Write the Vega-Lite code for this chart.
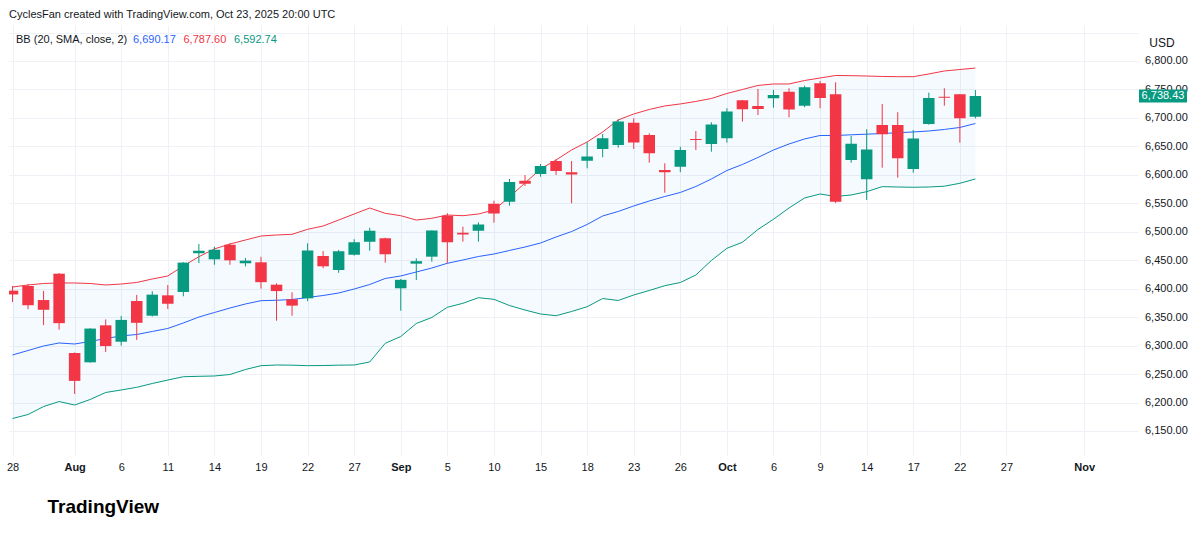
{
  "$schema": "https://vega.github.io/schema/vega-lite/v6.json",
  "autosize": {"type": "none"},
  "width": 1129.5,
  "height": 430,
  "padding": {"left": 9, "top": 25, "right": 61.5, "bottom": 80},
  "background": "#ffffff",
  "title": {
    "text": "CyclesFan created with TradingView.com, Oct 23, 2025 20:00 UTC",
    "anchor": "start",
    "frame": "group",
    "offset": 7.5,
    "dy": 11.5,
    "baseline": "alphabetic",
    "fontSize": 11,
    "fontWeight": "normal",
    "color": "#131722"
  },
  "data": {
    "values": [
      {"d": "2025-07-28", "open": 6396.5, "high": 6404.7, "low": 6376.6, "close": 6389.8, "upper": 6402.9, "basis": 6283.5, "lower": 6171.9},
      {"d": "2025-07-29", "open": 6404.7, "high": 6408.0, "low": 6364.0, "close": 6370.9, "upper": 6406.5, "basis": 6291.4, "lower": 6178.9},
      {"d": "2025-07-30", "open": 6380.0, "high": 6396.0, "low": 6336.0, "close": 6362.9, "upper": 6409.1, "basis": 6299.3, "lower": 6192.9},
      {"d": "2025-07-31", "open": 6426.3, "high": 6427.5, "low": 6328.0, "close": 6339.4, "upper": 6410.0, "basis": 6304.6, "lower": 6201.7},
      {"d": "2025-08-01", "open": 6287.0, "high": 6288.0, "low": 6215.0, "close": 6238.0, "upper": 6410.0, "basis": 6302.8, "lower": 6195.6},
      {"d": "2025-08-04", "open": 6270.6, "high": 6330.5, "low": 6270.0, "close": 6329.9, "upper": 6409.1, "basis": 6307.2, "lower": 6205.3},
      {"d": "2025-08-05", "open": 6335.6, "high": 6346.0, "low": 6288.7, "close": 6299.2, "upper": 6406.5, "basis": 6312.5, "lower": 6217.6},
      {"d": "2025-08-06", "open": 6306.8, "high": 6352.0, "low": 6299.8, "close": 6345.1, "upper": 6408.2, "basis": 6316.9, "lower": 6222.0},
      {"d": "2025-08-07", "open": 6378.3, "high": 6389.0, "low": 6310.0, "close": 6340.0, "upper": 6410.9, "basis": 6319.5, "lower": 6226.7},
      {"d": "2025-08-08", "open": 6352.5, "high": 6395.4, "low": 6351.0, "close": 6389.5, "upper": 6417.0, "basis": 6324.8, "lower": 6233.4},
      {"d": "2025-08-11", "open": 6388.3, "high": 6406.5, "low": 6364.3, "close": 6373.5, "upper": 6422.3, "basis": 6330.1, "lower": 6239.5},
      {"d": "2025-08-12", "open": 6394.2, "high": 6446.5, "low": 6386.6, "close": 6445.8, "upper": 6439.9, "basis": 6339.7, "lower": 6245.3},
      {"d": "2025-08-13", "open": 6462.1, "high": 6478.5, "low": 6445.0, "close": 6466.6, "upper": 6456.2, "basis": 6350.2, "lower": 6246.0},
      {"d": "2025-08-14", "open": 6451.6, "high": 6473.7, "low": 6442.0, "close": 6468.5, "upper": 6469.8, "basis": 6358.1, "lower": 6246.6},
      {"d": "2025-08-15", "open": 6477.3, "high": 6480.0, "low": 6442.0, "close": 6449.8, "upper": 6478.5, "basis": 6366.0, "lower": 6249.2},
      {"d": "2025-08-18", "open": 6444.6, "high": 6453.9, "low": 6439.3, "close": 6449.2, "upper": 6485.5, "basis": 6373.1, "lower": 6258.0},
      {"d": "2025-08-19", "open": 6446.3, "high": 6456.0, "low": 6400.0, "close": 6411.4, "upper": 6492.5, "basis": 6378.9, "lower": 6264.7},
      {"d": "2025-08-20", "open": 6407.0, "high": 6409.4, "low": 6343.7, "close": 6395.8, "upper": 6494.3, "basis": 6379.6, "lower": 6265.9},
      {"d": "2025-08-21", "open": 6381.3, "high": 6393.6, "low": 6352.5, "close": 6370.2, "upper": 6495.5, "basis": 6381.0, "lower": 6265.6},
      {"d": "2025-08-22", "open": 6383.0, "high": 6479.7, "low": 6378.0, "close": 6466.9, "upper": 6504.3, "basis": 6384.5, "lower": 6264.7},
      {"d": "2025-08-25", "open": 6457.4, "high": 6466.2, "low": 6436.0, "close": 6439.3, "upper": 6510.1, "basis": 6388.0, "lower": 6265.0},
      {"d": "2025-08-26", "open": 6432.8, "high": 6468.0, "low": 6428.0, "close": 6465.9, "upper": 6520.6, "basis": 6392.4, "lower": 6265.6},
      {"d": "2025-08-27", "open": 6459.7, "high": 6486.8, "low": 6458.0, "close": 6481.4, "upper": 6531.2, "basis": 6399.4, "lower": 6265.9},
      {"d": "2025-08-28", "open": 6482.5, "high": 6507.0, "low": 6466.7, "close": 6501.9, "upper": 6541.7, "basis": 6407.3, "lower": 6271.2},
      {"d": "2025-08-29", "open": 6488.5, "high": 6489.5, "low": 6445.6, "close": 6460.3, "upper": 6532.4, "basis": 6417.9, "lower": 6304.0},
      {"d": "2025-09-02", "open": 6400.7, "high": 6417.0, "low": 6361.3, "close": 6415.5, "upper": 6528.2, "basis": 6422.3, "lower": 6316.0},
      {"d": "2025-09-03", "open": 6443.9, "high": 6453.3, "low": 6415.2, "close": 6448.3, "upper": 6520.6, "basis": 6429.3, "lower": 6338.8},
      {"d": "2025-09-04", "open": 6456.2, "high": 6502.5, "low": 6447.4, "close": 6502.1, "upper": 6523.6, "basis": 6436.3, "lower": 6349.4},
      {"d": "2025-09-05", "open": 6528.2, "high": 6532.4, "low": 6444.6, "close": 6481.5, "upper": 6529.4, "basis": 6444.6, "lower": 6367.3},
      {"d": "2025-09-08", "open": 6498.3, "high": 6508.9, "low": 6482.5, "close": 6495.2, "upper": 6528.2, "basis": 6450.4, "lower": 6374.3},
      {"d": "2025-09-09", "open": 6501.9, "high": 6516.6, "low": 6482.5, "close": 6512.6, "upper": 6531.2, "basis": 6456.5, "lower": 6384.1},
      {"d": "2025-09-10", "open": 6549.3, "high": 6554.6, "low": 6515.9, "close": 6532.0, "upper": 6538.2, "basis": 6460.9, "lower": 6381.3},
      {"d": "2025-09-11", "open": 6552.8, "high": 6592.7, "low": 6545.8, "close": 6587.5, "upper": 6561.1, "basis": 6467.1, "lower": 6370.4},
      {"d": "2025-09-12", "open": 6589.7, "high": 6599.7, "low": 6580.4, "close": 6584.3, "upper": 6585.7, "basis": 6473.2, "lower": 6362.5},
      {"d": "2025-09-15", "open": 6601.5, "high": 6619.0, "low": 6596.7, "close": 6615.3, "upper": 6610.3, "basis": 6480.2, "lower": 6355.5},
      {"d": "2025-09-16", "open": 6624.3, "high": 6627.3, "low": 6599.7, "close": 6606.8, "upper": 6626.1, "basis": 6490.8, "lower": 6352.5},
      {"d": "2025-09-17", "open": 6604.4, "high": 6624.3, "low": 6550.0, "close": 6600.4, "upper": 6643.7, "basis": 6500.4, "lower": 6359.9},
      {"d": "2025-09-18", "open": 6624.8, "high": 6657.2, "low": 6611.5, "close": 6632.0, "upper": 6657.7, "basis": 6512.8, "lower": 6368.3},
      {"d": "2025-09-19", "open": 6645.4, "high": 6671.7, "low": 6630.8, "close": 6664.4, "upper": 6675.3, "basis": 6527.7, "lower": 6382.7},
      {"d": "2025-09-22", "open": 6652.4, "high": 6697.6, "low": 6647.7, "close": 6693.8, "upper": 6696.4, "basis": 6535.6, "lower": 6379.2},
      {"d": "2025-09-23", "open": 6691.6, "high": 6699.3, "low": 6645.4, "close": 6656.9, "upper": 6706.9, "basis": 6545.3, "lower": 6388.9},
      {"d": "2025-09-24", "open": 6670.0, "high": 6673.0, "low": 6621.3, "close": 6638.0, "upper": 6714.8, "basis": 6554.0, "lower": 6396.8},
      {"d": "2025-09-25", "open": 6608.5, "high": 6620.3, "low": 6568.6, "close": 6604.7, "upper": 6721.0, "basis": 6561.9, "lower": 6405.2},
      {"d": "2025-09-26", "open": 6614.3, "high": 6649.4, "low": 6604.5, "close": 6643.7, "upper": 6724.5, "basis": 6569.0, "lower": 6410.8},
      {"d": "2025-09-29", "open": 6663.0, "high": 6677.0, "low": 6643.6, "close": 6661.2, "upper": 6728.9, "basis": 6579.5, "lower": 6424.0},
      {"d": "2025-09-30", "open": 6654.2, "high": 6692.3, "low": 6640.6, "close": 6688.5, "upper": 6734.1, "basis": 6592.7, "lower": 6449.5},
      {"d": "2025-10-01", "open": 6664.2, "high": 6716.9, "low": 6656.5, "close": 6711.2, "upper": 6742.9, "basis": 6607.6, "lower": 6470.9},
      {"d": "2025-10-02", "open": 6731.0, "high": 6731.5, "low": 6693.4, "close": 6715.4, "upper": 6749.9, "basis": 6618.2, "lower": 6481.5},
      {"d": "2025-10-03", "open": 6720.9, "high": 6750.8, "low": 6705.1, "close": 6715.8, "upper": 6757.0, "basis": 6630.5, "lower": 6504.0},
      {"d": "2025-10-06", "open": 6734.5, "high": 6749.0, "low": 6718.0, "close": 6740.3, "upper": 6759.6, "basis": 6643.6, "lower": 6521.9},
      {"d": "2025-10-07", "open": 6746.1, "high": 6752.0, "low": 6701.0, "close": 6714.6, "upper": 6759.6, "basis": 6654.2, "lower": 6541.7},
      {"d": "2025-10-08", "open": 6721.5, "high": 6756.6, "low": 6718.7, "close": 6753.7, "upper": 6765.7, "basis": 6663.0, "lower": 6559.3},
      {"d": "2025-10-09", "open": 6760.8, "high": 6764.9, "low": 6716.9, "close": 6735.1, "upper": 6770.1, "basis": 6669.1, "lower": 6566.3},
      {"d": "2025-10-10", "open": 6741.5, "high": 6762.6, "low": 6550.2, "close": 6552.5, "upper": 6774.5, "basis": 6669.1, "lower": 6561.9},
      {"d": "2025-10-13", "open": 6626.0, "high": 6668.2, "low": 6621.3, "close": 6654.7, "upper": 6774.2, "basis": 6670.3, "lower": 6564.6},
      {"d": "2025-10-14", "open": 6592.1, "high": 6680.0, "low": 6555.8, "close": 6644.3, "upper": 6773.6, "basis": 6671.4, "lower": 6570.4},
      {"d": "2025-10-15", "open": 6687.6, "high": 6724.5, "low": 6612.5, "close": 6671.1, "upper": 6772.8, "basis": 6672.6, "lower": 6579.2},
      {"d": "2025-10-16", "open": 6687.6, "high": 6709.9, "low": 6595.0, "close": 6629.1, "upper": 6772.4, "basis": 6673.9, "lower": 6578.6},
      {"d": "2025-10-17", "open": 6610.3, "high": 6678.8, "low": 6603.8, "close": 6664.0, "upper": 6772.4, "basis": 6675.3, "lower": 6578.1},
      {"d": "2025-10-20", "open": 6689.3, "high": 6744.3, "low": 6688.0, "close": 6735.1, "upper": 6777.2, "basis": 6677.0, "lower": 6578.6},
      {"d": "2025-10-21", "open": 6737.3, "high": 6752.0, "low": 6721.5, "close": 6735.4, "upper": 6782.4, "basis": 6679.7, "lower": 6580.0},
      {"d": "2025-10-22", "open": 6741.5, "high": 6742.0, "low": 6656.5, "close": 6699.4, "upper": 6785.0, "basis": 6683.2, "lower": 6585.1},
      {"d": "2025-10-23", "open": 6702.1, "high": 6749.0, "low": 6699.0, "close": 6738.43, "upper": 6787.6, "basis": 6690.17, "lower": 6592.74}
    ]
  },
  "encoding": {
    "x": {
      "field": "d",
      "type": "ordinal",
      "scale": {
        "type": "point",
        "padding": 0.364,
        "align": 0.31,
        "domain": [
          "2025-07-28", "2025-07-29", "2025-07-30", "2025-07-31", "2025-08-01",
          "2025-08-04", "2025-08-05", "2025-08-06", "2025-08-07", "2025-08-08",
          "2025-08-11", "2025-08-12", "2025-08-13", "2025-08-14", "2025-08-15",
          "2025-08-18", "2025-08-19", "2025-08-20", "2025-08-21", "2025-08-22",
          "2025-08-25", "2025-08-26", "2025-08-27", "2025-08-28", "2025-08-29",
          "2025-09-02", "2025-09-03", "2025-09-04", "2025-09-05",
          "2025-09-08", "2025-09-09", "2025-09-10", "2025-09-11", "2025-09-12",
          "2025-09-15", "2025-09-16", "2025-09-17", "2025-09-18", "2025-09-19",
          "2025-09-22", "2025-09-23", "2025-09-24", "2025-09-25", "2025-09-26",
          "2025-09-29", "2025-09-30", "2025-10-01", "2025-10-02", "2025-10-03",
          "2025-10-06", "2025-10-07", "2025-10-08", "2025-10-09", "2025-10-10",
          "2025-10-13", "2025-10-14", "2025-10-15", "2025-10-16", "2025-10-17",
          "2025-10-20", "2025-10-21", "2025-10-22", "2025-10-23", "2025-10-24",
          "2025-10-27", "2025-10-28", "2025-10-29", "2025-10-30", "2025-10-31",
          "2025-11-03", "2025-11-04", "2025-11-05", "2025-11-06"
        ]
      },
      "axis": {
        "values": [
          "2025-07-28", "2025-08-01", "2025-08-06", "2025-08-11", "2025-08-14",
          "2025-08-19", "2025-08-22", "2025-08-27", "2025-09-02", "2025-09-05",
          "2025-09-10", "2025-09-15", "2025-09-18", "2025-09-23", "2025-09-26",
          "2025-10-01", "2025-10-06", "2025-10-09", "2025-10-14", "2025-10-17",
          "2025-10-22", "2025-10-27", "2025-11-03"
        ],
        "labelExpr": "datum.value == '2025-08-01' ? 'Aug' : datum.value == '2025-09-02' ? 'Sep' : datum.value == '2025-10-01' ? 'Oct' : datum.value == '2025-11-03' ? 'Nov' : '' + toNumber(slice(datum.value, 8))",
        "labelAngle": 0,
        "labelFontSize": 11,
        "labelColor": "#131722",
        "labelFontWeight": {
          "condition": {"test": "indexof(['2025-08-01','2025-09-02','2025-10-01','2025-11-03'], datum.value) >= 0", "value": "bold"},
          "value": "normal"
        },
        "labelBaseline": "middle",
        "labelPadding": 12,
        "ticks": false,
        "tickSize": 0,
        "domain": false,
        "grid": true,
        "gridColor": "#eef1f6",
        "gridWidth": 1,
        "zindex": 0,
        "title": "TradingView",
        "titleFontSize": 19,
        "titleFontWeight": "bold",
        "titleColor": "#000000",
        "titleAlign": "left",
        "titleBaseline": "alphabetic",
        "titleX": 38,
        "titleY": 57
      }
    },
    "y": {
      "field": "close",
      "type": "quantitative",
      "scale": {"domain": [6107.8, 6863.2], "nice": false, "zero": false},
      "axis": {
        "orient": "right",
        "values": [6150, 6200, 6250, 6300, 6350, 6400, 6450, 6500, 6550, 6600, 6650, 6700, 6750, 6800, 6850],
        "labelExpr": "datum.value > 6825 ? '' : format(datum.value, ',.2f')",
        "labelFontSize": 11,
        "labelColor": "#131722",
        "labelBaseline": "middle",
        "labelPadding": 6,
        "ticks": false,
        "tickSize": 0,
        "domain": false,
        "grid": true,
        "gridColor": "#eef1f6",
        "zindex": 0,
        "title": "USD",
        "titleAngle": 0,
        "titleAlign": "center",
        "titleBaseline": "middle",
        "titleX": 23,
        "titleY": 17,
        "titleFontSize": 12,
        "titleFontWeight": "normal",
        "titleColor": "#131722"
      }
    }
  },
  "layer": [
    {
      "mark": {"type": "area", "color": "#2196F3", "opacity": 0.05},
      "encoding": {
        "y": {
          "field": "upper",
          "type": "quantitative",
          "scale": {"domain": [6107.8, 6863.2], "nice": false, "zero": false},
          "axis": {
            "orient": "right",
            "values": [6150, 6200, 6250, 6300, 6350, 6400, 6450, 6500, 6550, 6600, 6650, 6700, 6750, 6800, 6850],
            "labelExpr": "datum.value > 6825 ? '' : format(datum.value, ',.2f')",
            "labelFontSize": 11,
            "labelColor": "#131722",
            "labelBaseline": "middle",
            "labelPadding": 6,
            "ticks": false,
            "tickSize": 0,
            "domain": false,
            "grid": true,
            "gridColor": "#eef1f6",
            "zindex": 0,
            "title": "USD",
            "titleAngle": 0,
            "titleAlign": "center",
            "titleBaseline": "middle",
            "titleX": 23,
            "titleY": 17,
            "titleFontSize": 12,
            "titleFontWeight": "normal",
            "titleColor": "#131722"
          }
        },
        "y2": {"field": "lower"}
      }
    },
    {
      "transform": [{"fold": ["upper", "basis", "lower"], "as": ["band", "val"]}],
      "mark": {"type": "line", "strokeWidth": 1},
      "encoding": {
        "y": {
          "field": "val",
          "type": "quantitative",
          "scale": {"domain": [6107.8, 6863.2], "nice": false, "zero": false},
          "axis": {
            "orient": "right",
            "values": [6150, 6200, 6250, 6300, 6350, 6400, 6450, 6500, 6550, 6600, 6650, 6700, 6750, 6800, 6850],
            "labelExpr": "datum.value > 6825 ? '' : format(datum.value, ',.2f')",
            "labelFontSize": 11,
            "labelColor": "#131722",
            "labelBaseline": "middle",
            "labelPadding": 6,
            "ticks": false,
            "tickSize": 0,
            "domain": false,
            "grid": true,
            "gridColor": "#eef1f6",
            "zindex": 0,
            "title": "USD",
            "titleAngle": 0,
            "titleAlign": "center",
            "titleBaseline": "middle",
            "titleX": 23,
            "titleY": 17,
            "titleFontSize": 12,
            "titleFontWeight": "normal",
            "titleColor": "#131722"
          }
        },
        "color": {
          "field": "band",
          "type": "nominal",
          "scale": {"domain": ["basis", "upper", "lower"], "range": ["#2962FF", "#F23645", "#089981"]},
          "legend": {
            "orient": "none",
            "legendX": 7,
            "legendY": 9.5,
            "direction": "horizontal",
            "padding": 0,
            "title": "BB (20, SMA, close, 2)",
            "titleOrient": "left",
            "titleFontSize": 11,
            "titleFontWeight": "normal",
            "titleColor": "#131722",
            "titlePadding": 4,
            "labelFontSize": 11,
            "labelExpr": "datum.value == 'basis' ? '6,690.17' : datum.value == 'upper' ? '6,787.60' : '6,592.74'",
            "labelColor": {"expr": "datum.value == 'basis' ? '#2962FF' : datum.value == 'upper' ? '#F23645' : '#089981'"},
            "labelOffset": -10,
            "columnPadding": 6.5,
            "symbolSize": 0,
            "symbolStrokeWidth": 0,
            "symbolOpacity": 0
          }
        }
      }
    },
    {
      "mark": {"type": "rule", "strokeWidth": 1},
      "encoding": {
        "y": {
          "field": "low",
          "type": "quantitative",
          "scale": {"domain": [6107.8, 6863.2], "nice": false, "zero": false},
          "axis": {
            "orient": "right",
            "values": [6150, 6200, 6250, 6300, 6350, 6400, 6450, 6500, 6550, 6600, 6650, 6700, 6750, 6800, 6850],
            "labelExpr": "datum.value > 6825 ? '' : format(datum.value, ',.2f')",
            "labelFontSize": 11,
            "labelColor": "#131722",
            "labelBaseline": "middle",
            "labelPadding": 6,
            "ticks": false,
            "tickSize": 0,
            "domain": false,
            "grid": true,
            "gridColor": "#eef1f6",
            "zindex": 0,
            "title": "USD",
            "titleAngle": 0,
            "titleAlign": "center",
            "titleBaseline": "middle",
            "titleX": 23,
            "titleY": 17,
            "titleFontSize": 12,
            "titleFontWeight": "normal",
            "titleColor": "#131722"
          }
        },
        "y2": {"field": "high"},
        "color": {"condition": {"test": "datum.close >= datum.open", "value": "#089981"}, "value": "#F23645"}
      }
    },
    {
      "mark": {"type": "bar", "width": 11.5, "clip": true},
      "encoding": {
        "y2": {"field": "open"},
        "color": {"condition": {"test": "datum.close >= datum.open", "value": "#089981"}, "value": "#F23645"}
      }
    },
    {
      "transform": [{"filter": "datum.d == '2025-10-23'"}],
      "mark": {"type": "point", "shape": "M163.6,-6.5H211.6V6.5H163.6Z", "size": 4, "filled": true, "opacity": 1, "color": "#089981", "strokeWidth": 0}
    },
    {
      "transform": [{"filter": "datum.d == '2025-10-23'"}],
      "mark": {"type": "text", "dx": 187.6, "align": "center", "baseline": "middle", "color": "#ffffff", "fontSize": 11},
      "encoding": {
        "text": {"field": "close", "type": "quantitative", "format": ",.2f"}
      }
    }
  ],
  "config": {
    "view": {"stroke": null},
    "font": "Liberation Sans"
  }
}
